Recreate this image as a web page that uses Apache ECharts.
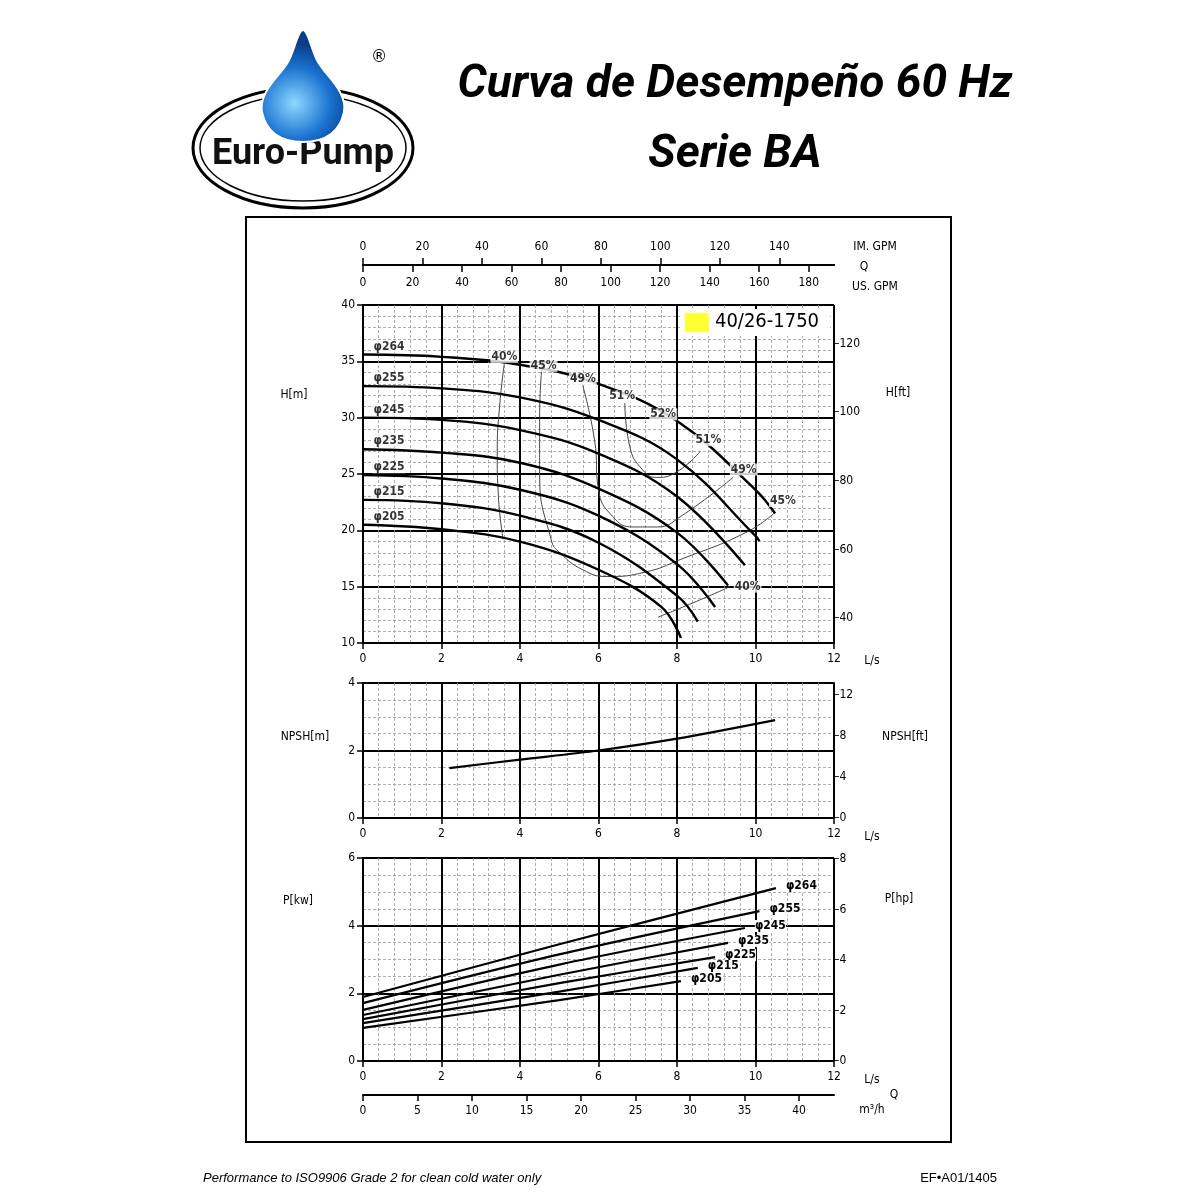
<!DOCTYPE html>
<html><head><meta charset="utf-8">
<script src="https://cdn.jsdelivr.net/npm/echarts@6/dist/echarts.min.js"></script>
<style>html,body{margin:0;padding:0;background:#fff}#c{width:1200px;height:1200px}</style>
</head><body><div id="c"></div>
<script>
// ---------- data ----------
const diameters = ['φ264','φ255','φ245','φ235','φ225','φ215','φ205'];
const headQ = [
  [0,2,4,6,8,10,10.5],
  [0,2,4,6,8,10,10.1],
  [0,2,4,6,8,9.73],
  [0,2,4,6,8,9.3],
  [0,2,4,6,8,8.97],
  [0,2,4,6,8,8.53],
  [0,2,4,6,7.6,8.1]
];
const headH = [
  [35.6,35.4,34.7,33.0,29.7,23.6,21.5],
  [32.8,32.6,31.8,29.8,26.3,19.5,19.05],
  [30.0,29.8,28.9,26.8,23.0,16.9],
  [27.2,26.9,26.0,23.7,19.8,15.1],
  [24.9,24.6,23.6,21.3,17.0,13.2],
  [22.7,22.4,21.3,18.9,14.2,11.9],
  [20.5,20.1,19.0,16.5,13.2,10.45]
];
const effNames = ['40%','40%b','45%','49%','51%'];
const effQ = [
  [3.6,3.48,3.42,3.45,3.57],
  [9.35,8.5,7.52],
  [4.56,4.5,4.5,4.8,5.02,5.6,6.22,7.2,8.08,9.78,10.5],
  [5.58,5.9,6.0,6.37,6.88,7.5,8.08,9.43],
  [6.67,6.8,7.13,7.48,8.0,8.59]
];
const effH = [
  [34.8,31.0,27.0,23.0,19.2],
  [15.0,13.7,12.3],
  [34.7,30.0,25.0,19.1,18.0,16.5,15.9,16.3,17.4,19.85,21.6],
  [33.1,28.0,23.6,21.2,20.3,20.3,21.2,24.7],
  [31.3,27.4,25.35,24.7,25.2,27.0]
];
const effLabelText = ['40%','45%','49%','51%','52%','51%','49%','45%','40%'];
const effLabelQ = [3.6,4.6,5.6,6.6,7.65,8.8,9.7,10.7,9.8];
const effLabelH = [35.4,34.6,33.4,31.9,30.3,28.0,25.4,22.6,15.0];
const npshQ = [2.2,4,6,8,10.5];
const npshM = [1.48,1.73,2.0,2.35,2.9];
const powerQ = [
  [0,5,10.52],[0,5,10.1],[0,5,9.73],[0,5,9.3],[0,5,8.97],[0,5,8.53],[0,5,8.1]
];
const powerP = [
  [1.89,3.45,5.11],[1.71,3.15,4.43],[1.51,2.85,3.93],[1.36,2.55,3.49],
  [1.24,2.3,3.07],[1.12,2.05,2.75],[0.98,1.8,2.36]
];
const ftTicks = [40,60,80,100,120];
const npshFtTicks = [0,4,8,12];
const hpTicks = [0,2,4,6,8];

// ---------- chart ----------
const F = 'DejaVu Sans Condensed, DejaVu Sans';
const chart = echarts.init(document.getElementById('c'));
const grids = [
  {left:363, top:305, width:471, height:338},
  {left:363, top:683, width:471, height:135},
  {left:363, top:858, width:471, height:203}
];
const lab = {color:'#000', fontFamily:F, fontSize:12};
function xL(g){
  return {type:'value', gridIndex:g, min:0, max:12, interval:2, position:'bottom',
    axisLine:{show:true,onZero:false,lineStyle:{color:'#000',width:2}},
    axisTick:{show:true,length:6,lineStyle:{color:'#000',width:1.5}},
    axisLabel:Object.assign({margin:10},lab),
    splitLine:{show:true,lineStyle:{color:'#000',width:2}},
    minorTick:{show:false,splitNumber:5},
    minorSplitLine:{show:true,lineStyle:{color:'#999',width:0.8,type:[3,2]}}};
}
function yL(g,min,max,iv,minorN){
  return {type:'value', gridIndex:g, min:min, max:max, interval:iv, position:'left',
    axisLine:{show:true,lineStyle:{color:'#000',width:2}},
    axisTick:{show:true,length:6,lineStyle:{color:'#000',width:1.5}},
    axisLabel:Object.assign({margin:8},lab),
    splitLine:{show:true,lineStyle:{color:'#000',width:2}},
    minorTick:{show:false,splitNumber:minorN},
    minorSplitLine:{show:true,lineStyle:{color:'#999',width:0.8,type:[3,2]}}};
}
function yR(g,min,max,ticks){
  return {type:'value', gridIndex:g, min:min, max:max, position:'right',
    axisLine:{show:true,lineStyle:{color:'#000',width:2}},
    axisTick:{show:false},
    axisLabel:Object.assign({margin:0,customValues:ticks,formatter:v=>'–'+v},lab),
    splitLine:{show:false}};
}
const xAxis = [
  xL(0),
  {type:'value',gridIndex:0,min:0,max:12*15.85,interval:20,position:'top',offset:40,
    axisLine:{show:true,onZero:false,lineStyle:{color:'#000',width:2}},
    axisTick:{show:true,inside:true,length:7,lineStyle:{color:'#000',width:1.5}},
    axisLabel:Object.assign({inside:true,margin:12,showMaxLabel:false},lab),splitLine:{show:false}},
  {type:'value',gridIndex:0,min:0,max:12*13.2,interval:20,position:'top',offset:40,
    axisLine:{show:true,onZero:false,lineStyle:{color:'#000',width:2}},
    axisTick:{show:true,length:7,lineStyle:{color:'#000',width:1.5}},
    axisLabel:Object.assign({margin:12,showMaxLabel:false},lab),splitLine:{show:false}},
  xL(1), xL(2),
  {type:'value',gridIndex:2,min:0,max:43.2,interval:5,position:'bottom',offset:34,
    axisLine:{show:true,onZero:false,lineStyle:{color:'#000',width:2}},
    axisTick:{show:true,length:6,lineStyle:{color:'#000',width:1.5}},
    axisLabel:Object.assign({margin:10,showMaxLabel:false},lab),splitLine:{show:false}}
];
const yAxis = [
  yL(0,10,40,5,5), yR(0,10*3.2808,40*3.2808,ftTicks),
  yL(1,0,4,2,4), yR(1,0,4*3.2808,npshFtTicks),
  yL(2,0,6,2,4), yR(2,0,6*1.341,hpTicks)
];
const zip = (a,b)=>a.map((v,i)=>[v,b[i]]);
const series = [];
diameters.forEach((d,i)=>{
  series.push({type:'line',xAxisIndex:0,yAxisIndex:0,smooth:0.4,symbol:'none',z:5,
    lineStyle:{color:'#000',width:2.4},data:zip(headQ[i],headH[i])});
  series.push({type:'line',xAxisIndex:4,yAxisIndex:4,smooth:0.3,symbol:'none',z:5,
    lineStyle:{color:'#000',width:2.2},data:zip(powerQ[i],powerP[i]),
    endLabel:{show:true,formatter:d,color:'#000',fontFamily:F,fontSize:12,fontWeight:'bold',backgroundColor:'#fff',offset:[2,-2]}});
});
series.push({type:'scatter',xAxisIndex:0,yAxisIndex:0,symbolSize:0,z:6,
  data:diameters.map((d,i)=>[headQ[i][0],headH[i][0],d]),
  label:{show:true,position:'inside',offset:[26,-8],formatter:p=>p.value[2],color:'#000',fontFamily:F,
    fontSize:12,fontWeight:'bold',backgroundColor:'#fff',padding:[0,1]},
  emphasis:{disabled:true}});
effNames.forEach((n,i)=>{
  series.push({type:'line',xAxisIndex:0,yAxisIndex:0,smooth:0.5,symbol:'none',z:4,
    lineStyle:{color:'#444',width:1},data:zip(effQ[i],effH[i])});
});
series.push({type:'scatter',xAxisIndex:0,yAxisIndex:0,symbolSize:0,z:6,
  data:effLabelQ.map((q,i)=>[q,effLabelH[i],effLabelText[i]]),
  label:{show:true,position:'inside',formatter:p=>p.value[2],color:'#000',fontFamily:F,
    fontSize:12,fontWeight:'bold',backgroundColor:'#fff',padding:[0,1]}});
series.push({type:'line',xAxisIndex:3,yAxisIndex:2,smooth:0.3,symbol:'none',
  lineStyle:{color:'#000',width:2.2},data:zip(npshQ,npshM)});

function T(x,y,t,extra){return {type:'text',x:x,y:y,z:100,style:Object.assign({text:t,fill:'#000',font:'12px '+F,align:'center',verticalAlign:'middle'},extra||{})};}
const dropFill = {type:'radial',x:0.4,y:0.65,r:0.7,colorStops:[{offset:0,color:'#8fd8ff'},{offset:0.6,color:'#1a73d0'},{offset:1,color:'#0a3d8a'}]};
const graphic = [
  {type:'rect',z:0,shape:{x:246,y:217,width:705,height:925},style:{fill:'none',stroke:'#000',lineWidth:2}},
  T(735,85,'Curva de Desempeño 60 Hz',{font:'italic bold 46px Liberation Sans Narrow, Roboto'}),
  T(735,155,'Serie BA',{font:'italic bold 46px Liberation Sans Narrow, Roboto'}),
  {type:'ellipse',z:100,shape:{cx:303,cy:148,rx:110,ry:60},style:{fill:'#fff',stroke:'#000',lineWidth:3}},
  {type:'ellipse',z:100,shape:{cx:303,cy:148,rx:103,ry:53},style:{fill:'none',stroke:'#000',lineWidth:1.5}},
  {type:'polygon',z:101,shape:{smooth:0.35,points:[[303,30],[288,62],[266,92],[262,112],[275,134],[303,142],[331,134],[344,112],[340,92],[318,62]]},
    style:{fill:dropFill,stroke:'#fff',lineWidth:2}},
  T(303,155,'Euro-Pump',{font:'bold 36px Liberation Sans Narrow, Roboto',fill:'#111',stroke:'#fff',lineWidth:3}),
  T(379,57,'®',{font:'18px '+F}),
  {type:'rect',z:50,shape:{x:680,y:309,width:150,height:27},style:{fill:'#fff'}},
  {type:'rect',z:51,shape:{x:685,y:313,width:24,height:19},style:{fill:'#ffff33'}},
  T(767,322,'40/26-1750',{font:'20px '+F}),
  T(875,247,'IM. GPM'),T(864,267,'Q'),T(875,287,'US. GPM'),
  T(294,395,'H[m]'),T(898,393,'H[ft]'),T(872,661,'L/s'),
  T(305,737,'NPSH[m]'),T(905,737,'NPSH[ft]'),T(872,837,'L/s'),
  T(298,901,'P[kw]'),T(899,899,'P[hp]'),T(872,1080,'L/s'),
  T(894,1095,'Q'),T(872,1110,'m³/h'),
  T(203,1178,'Performance to ISO9906 Grade 2 for clean cold water only',{align:'left',font:'italic 13px Liberation Sans, Arial'}),
  T(997,1178,'EF•A01/1405',{align:'right',font:'13px Liberation Sans, Arial'})
];
chart.setOption({backgroundColor:'#fff',animation:false,grid:grids,xAxis,yAxis,series,graphic});
</script></body></html>
